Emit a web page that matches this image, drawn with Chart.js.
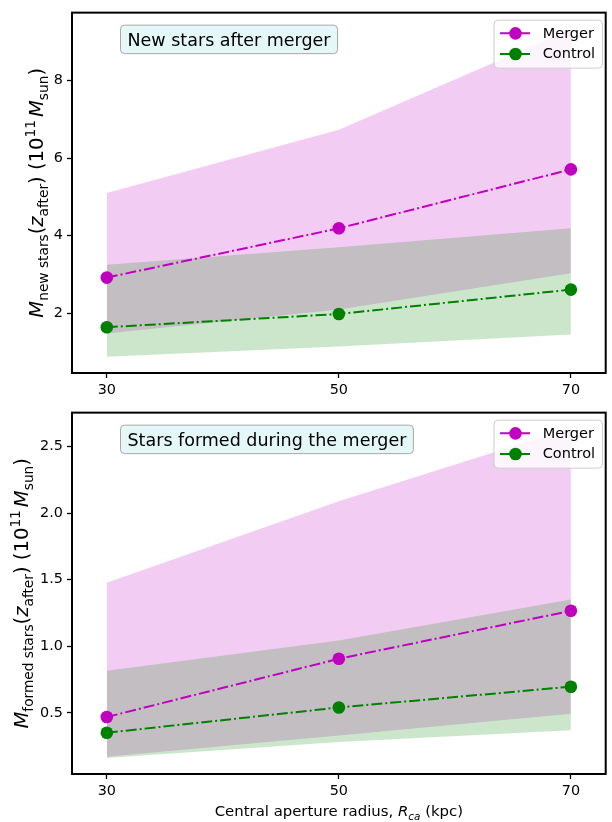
<!DOCTYPE html>
<html>
<head>
<meta charset="utf-8">
<script src="https://cdn.jsdelivr.net/npm/chart.js@4.4.0/dist/chart.umd.min.js"></script>
<style>
  html, body { margin: 0; padding: 0; background: #fff; }
  #wrap { position: relative; width: 612px; height: 822px; }
  .panel { position: absolute; left: 0; width: 612px; }
</style>
</head>
<body>
<div id="wrap">
  <div class="panel" style="top:0;height:400px"><canvas id="cTop" width="612" height="400"></canvas></div>
  <div class="panel" style="top:400px;height:422px"><canvas id="cBottom" width="612" height="422"></canvas></div>
</div>
<script>
// Central aperture radii (kpc)
const radii = [30, 50, 70];
const xTicks = [30, 50, 70];
const seriesLabels = ['Merger', 'Control'];

// New stars after the merger (10^11 Msun): median and spread
const newMergerMedian = [2.92, 4.19, 5.71];
const newMergerLow = [1.48, 2.10, 3.03];
const newMergerHigh = [5.10, 6.73, 9.32];
const newControlMedian = [1.64, 1.98, 2.61];
const newControlLow = [0.88, 1.14, 1.45];
const newControlHigh = [3.25, 3.70, 4.19];
const newTicks = [2, 4, 6, 8];

// Stars formed during the merger (10^11 Msun): median and spread
const formedMergerMedian = [0.468, 0.906, 1.266];
const formedMergerLow = [0.17, 0.33, 0.493];
const formedMergerHigh = [1.476, 2.09, 2.64];
const formedControlMedian = [0.35, 0.54, 0.696];
const formedControlLow = [0.16, 0.28, 0.369];
const formedControlHigh = [0.815, 1.043, 1.352];
const formedTicks = [0.5, 1.0, 1.5, 2.0, 2.5];

const MAGENTA = '#bf00bf';
const GREEN = '#008000';
const MAGENTA_FILL = 'rgba(191,0,191,0.2)';
const GREEN_FILL = 'rgba(0,128,0,0.2)';
const FONT = "'DejaVu Sans', sans-serif";
const DASHDOT = [11, 3, 2, 3];

function pts(ys) { return radii.map((x, i) => ({ x, y: ys[i] })); }

// Draws a run of text pieces with italic / subscript / superscript parts.
function drawRich(ctx, parts, size, anchorX, baselineY, align) {
  const SUB = 0.7;
  let total = 0;
  const items = parts.map(p => {
    const s = (p.sub || p.sup) ? size * SUB : size;
    const font = (p.it ? 'italic ' : '') + s + 'px ' + FONT;
    ctx.font = font;
    const w = ctx.measureText(p.t).width;
    const dy = p.sub ? size * 0.24 : (p.sup ? -size * 0.42 : 0);
    const gap = p.gap || 0;
    total += w + gap;
    return { font, w, dy, t: p.t, gap };
  });
  let x = align === 'center' ? anchorX - total / 2 : anchorX;
  ctx.textAlign = 'left';
  ctx.textBaseline = 'alphabetic';
  items.forEach(it => {
    ctx.font = it.font;
    ctx.fillText(it.t, x, baselineY + it.dy);
    x += it.w + it.gap;
  });
  return total;
}

function roundRect(ctx, x, y, w, h, r) {
  ctx.beginPath();
  ctx.moveTo(x + r, y);
  ctx.lineTo(x + w - r, y);
  ctx.arcTo(x + w, y, x + w, y + r, r);
  ctx.lineTo(x + w, y + h - r);
  ctx.arcTo(x + w, y + h, x + w - r, y + h, r);
  ctx.lineTo(x + r, y + h);
  ctx.arcTo(x, y + h, x, y + h - r, r);
  ctx.lineTo(x, y + r);
  ctx.arcTo(x, y, x + r, y, r);
  ctx.closePath();
}

// Frame, annotation box, legend and axis titles of a panel
const panelPlugin = {
  id: 'panel',
  afterDraw(chart, args, opts) {
    const ctx = chart.ctx;
    const a = chart.chartArea;
    ctx.save();

    // axes frame
    ctx.strokeStyle = '#000';
    ctx.lineWidth = 2;
    ctx.setLineDash([]);
    ctx.strokeRect(a.left, a.top, a.right - a.left, a.bottom - a.top);

    // annotation box
    ctx.font = '17.5px ' + FONT;
    const tw = ctx.measureText(opts.title).width;
    const bx = 120.5, by = a.top + 12.5, bh = 28.5, padX = 7;
    roundRect(ctx, bx, by, tw + 2 * padX, bh, 4);
    ctx.fillStyle = '#e4f8f8';
    ctx.fill();
    ctx.strokeStyle = '#a8a8a8';
    ctx.lineWidth = 1;
    ctx.stroke();
    ctx.fillStyle = '#000';
    ctx.textAlign = 'left';
    ctx.textBaseline = 'alphabetic';
    ctx.fillText(opts.title, bx + padX, by + 21);

    // legend
    const lx = 494, ly = a.top + 7.5, lw = 108.5, lh = 48;
    roundRect(ctx, lx, ly, lw, lh, 4);
    ctx.fillStyle = 'rgba(255,255,255,0.8)';
    ctx.fill();
    ctx.strokeStyle = '#cccccc';
    ctx.lineWidth = 1;
    ctx.stroke();
    const colors = [MAGENTA, GREEN];
    const rows = [a.top + 20.7, a.top + 41.3];
    seriesLabels.forEach((lab, i) => {
      const y = rows[i];
      ctx.strokeStyle = colors[i];
      ctx.lineWidth = 2;
      ctx.setLineDash(DASHDOT);
      ctx.beginPath();
      ctx.moveTo(500, y);
      ctx.lineTo(531, y);
      ctx.stroke();
      ctx.setLineDash([]);
      ctx.fillStyle = colors[i];
      ctx.beginPath();
      ctx.arc(515.5, y, 6.3, 0, Math.PI * 2);
      ctx.fill();
      ctx.fillStyle = '#000';
      ctx.font = '14.5px ' + FONT;
      ctx.textBaseline = 'middle';
      ctx.fillText(lab, 542.7, y + 0.5);
    });

    // y-axis title (rotated)
    ctx.fillStyle = '#000';
    ctx.translate(opts.yTitleX, (a.top + a.bottom) / 2);
    ctx.rotate(-Math.PI / 2);
    drawRich(ctx, opts.yParts, 19.6, 0, 0, 'center');
    ctx.setTransform(1, 0, 0, 1, 0, 0);

    // x-axis title
    if (opts.xParts) {
      ctx.fillStyle = '#000';
      drawRich(ctx, opts.xParts, 14.9, (a.left + a.right) / 2, opts.xTitleY, 'center');
    }
    ctx.restore();
  }
};

function makePanel(canvasId, cfg) {
  const bandStyle = { pointRadius: 0, pointHoverRadius: 0, borderWidth: 1, borderColor: 'rgba(0,0,0,0)' };
  const lineStyle = (c) => ({
    borderColor: c, backgroundColor: c, borderWidth: 2, borderDash: DASHDOT,
    pointRadius: 6.3, pointHoverRadius: 6.3, pointBorderWidth: 0, pointBackgroundColor: c, fill: false
  });
  return new Chart(document.getElementById(canvasId), {
    type: 'line',
    data: {
      datasets: [
        Object.assign({ label: 'merger low', data: pts(cfg.mLow), fill: false, order: 10 }, bandStyle),
        Object.assign({ label: 'merger high', data: pts(cfg.mHigh), fill: 0, backgroundColor: MAGENTA_FILL, order: 10 }, bandStyle),
        Object.assign({ label: 'control low', data: pts(cfg.cLow), fill: false, order: 9 }, bandStyle),
        Object.assign({ label: 'control high', data: pts(cfg.cHigh), fill: 2, backgroundColor: GREEN_FILL, order: 9 }, bandStyle),
        Object.assign({ label: seriesLabels[0], data: pts(cfg.mMed), order: 1 }, lineStyle(MAGENTA)),
        Object.assign({ label: seriesLabels[1], data: pts(cfg.cMed), order: 0 }, lineStyle(GREEN))
      ]
    },
    options: {
      responsive: false,
      animation: false,
      events: [],
      layout: { padding: { top: cfg.padTop, right: 2, left: 0, bottom: 0 } },
      scales: {
        x: {
          type: 'linear', min: 27, max: 73,
          afterFit: s => { s.height = cfg.xHeight; },
          afterBuildTicks: s => { s.ticks = xTicks.map(v => ({ value: v })); },
          grid: { display: true, drawOnChartArea: false, drawTicks: true, tickLength: 5, tickWidth: 1.3, tickColor: '#000', color: '#000' },
          border: { display: false },
          ticks: { color: '#000', font: { family: FONT, size: 14.4 }, padding: 4, maxRotation: 0, autoSkip: false }
        },
        y: {
          type: 'linear', min: cfg.yMin, max: cfg.yMax,
          afterFit: s => { s.width = 72; },
          afterBuildTicks: s => { s.ticks = cfg.yTicks.map(v => ({ value: v })); },
          grid: { display: true, drawOnChartArea: false, drawTicks: true, tickLength: 5, tickWidth: 1.3, tickColor: '#000', color: '#000' },
          border: { display: false },
          ticks: { color: '#000', font: { family: FONT, size: 14.4 }, padding: 4, callback: cfg.yFmt }
        }
      },
      plugins: {
        legend: { display: false },
        tooltip: { enabled: false },
        panel: { title: cfg.title, yParts: cfg.yParts, yTitleX: cfg.yTitleX, xParts: cfg.xParts, xTitleY: cfg.xTitleY }
      }
    },
    plugins: [panelPlugin]
  });
}

const unitParts = [
  { t: ' (' }, { t: '10' }, { t: '11', sup: true, gap: 3 },
  { t: 'M', it: true }, { t: 'sun', sub: true }, { t: ')' }
];

makePanel('cTop', {
  title: 'New stars after merger',
  mLow: newMergerLow, mHigh: newMergerHigh, mMed: newMergerMedian,
  cLow: newControlLow, cHigh: newControlHigh, cMed: newControlMedian,
  yMin: 0.46, yMax: 9.75, yTicks: newTicks, yFmt: v => String(v),
  padTop: 7, xHeight: 27, yTitleX: 43,
  yParts: [{ t: 'M', it: true }, { t: 'new stars', sub: true }, { t: '(' }, { t: 'z', it: true }, { t: 'after', sub: true }, { t: ')' }].concat(unitParts)
});

makePanel('cBottom', {
  title: 'Stars formed during the merger',
  mLow: formedMergerLow, mHigh: formedMergerHigh, mMed: formedMergerMedian,
  cLow: formedControlLow, cHigh: formedControlHigh, cMed: formedControlMedian,
  yMin: 0.04, yMax: 2.755, yTicks: formedTicks, yFmt: v => v.toFixed(1),
  padTop: 9, xHeight: 48, yTitleX: 28.3,
  yParts: [{ t: 'M', it: true }, { t: 'formed stars', sub: true }, { t: '(' }, { t: 'z', it: true }, { t: 'after', sub: true }, { t: ')' }].concat(unitParts),
  xParts: [{ t: 'Central aperture radius, ' }, { t: 'R', it: true }, { t: 'ca', it: true, sub: true }, { t: ' (kpc)' }],
  xTitleY: 416
});
</script>
</body>
</html>
